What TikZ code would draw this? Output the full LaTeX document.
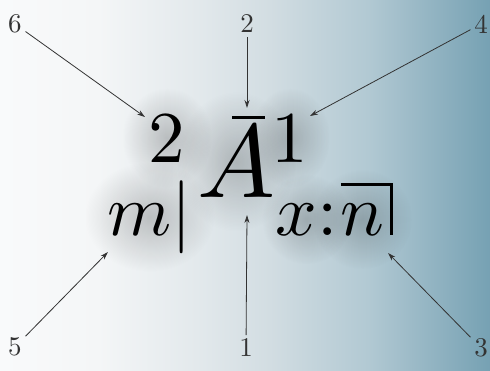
\documentclass[tikz,border=0pt]{standalone}
\usetikzlibrary{arrows.meta, positioning, calc, fadings}

\definecolor{bgA}{HTML}{F9FAFB}
\definecolor{bgB}{HTML}{F4F6F7}
\definecolor{bgC}{HTML}{E3E9EC}
\definecolor{bgD}{HTML}{D2DDE2}
\definecolor{bgE}{HTML}{B2C9D3}
\definecolor{bgF}{HTML}{76A1B3}
% the path spans 25bp..75bp of the shading
\pgfdeclarehorizontalshading{bgshade}{100bp}{color(0bp)=(bgA); color(25bp)=(bgA);
  color(35bp)=(bgB); color(45bp)=(bgC); color(52.5bp)=(bgD); color(62.5bp)=(bgE);
  color(75bp)=(bgF); color(100bp)=(bgF)}
\tikzfading[name=softglow, inner color=transparent!80, outer color=transparent!100]
\pgfdeclarelayer{backdrop}
\pgfdeclarelayer{glow}
\pgfsetlayers{backdrop,glow,main}

\begin{document}
\begin{tikzpicture}[x=1pt, y=-1pt, >={Stealth[length=8pt,width=5pt]}]
  \tikzset{lbl/.style={inner sep=1.2pt, text=black!80, scale=2.7},
           part/.style={inner sep=0pt, scale=7.3},
           bigpart/.style={inner sep=0pt, scale=10.4},
           angl/.style={line width=3pt},
           ptr/.style={->, draw=black!80, line width=0.8pt}}
  \begin{pgfonlayer}{backdrop}
    \shade[shading=bgshade] (0,0) rectangle (490,370);
  \end{pgfonlayer}
  \useasboundingbox (0,0) rectangle (490,370);

  % the symbol
  \node[part, anchor=base] (pre2) at (167,162) {2};
  \node[part, anchor=base] (post1) at (290,162) {1};
  \node[bigpart, anchor=base] (amain) at (236,197) {$A$};
  \draw[angl] ($(amain.base)+(-4,-80)$) -- ++(33,0);
  \node[part, anchor=base west] (mdef) at (106,235) {$m|$};
  \node[part, anchor=base west] (xage) at (274,235) {$x{:}$};
  \node[part, anchor=base west] (nterm) at (xage.base east) {$n$};
  \draw[angl] ($(nterm.north west)+(2,-18)$) -| ($(nterm.base east)+(6,0)$);

  % soft shadow behind it
  \begin{pgfonlayer}{glow}
    \foreach \part/\rx/\ry in {pre2/45/50, post1/40/50, amain/60/70,
                               mdef/65/55, xage/45/45, nterm/50/50}
      \fill[black, path fading=softglow] (\part.center) ellipse [x radius=\rx, y radius=\ry];
  \end{pgfonlayer}

  % numbered labels
  \node[lbl] (lab6) at (15,24) {6};
  \node[lbl] (lab2) at (247,24) {2};
  \node[lbl] (lab4) at (481,24) {4};
  \node[lbl] (lab5) at (15,347) {5};
  \node[lbl] (lab1) at (246,348) {1};
  \node[lbl] (lab3) at (481,348) {3};

  \coordinate (tip6) at (145,117);
  \coordinate (tip2) at (247,108);
  \coordinate (tip4) at (310,116);
  \coordinate (tip5) at (108,252);
  \coordinate (tip1) at (247,215);
  \coordinate (tip3) at (388,253);

  \draw[ptr] (lab6) -- (tip6);
  \draw[ptr] (lab2) -- (tip2);
  \draw[ptr] (lab4) -- (tip4);
  \draw[ptr] (lab5) -- (tip5);
  \draw[ptr] (lab1) -- (tip1);
  \draw[ptr] (lab3) -- (tip3);
\end{tikzpicture}
\end{document}
